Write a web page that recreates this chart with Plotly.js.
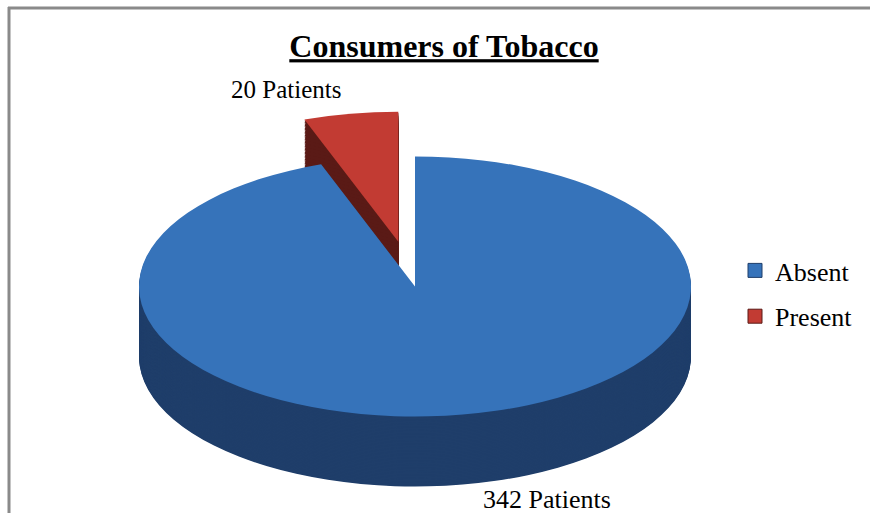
<!DOCTYPE html>
<html>
<head>
<meta charset="utf-8">
<script src="https://cdn.plot.ly/plotly-3.0.1.min.js"></script>
<style>
  html, body { margin:0; padding:0; background:#ffffff; width:870px; height:513px; overflow:hidden; }
  #pie { position:absolute; left:0; top:0; transform-origin:0 0; }
  #overlay { position:absolute; left:0; top:0; width:870px; height:513px; z-index:2; }
</style>
</head>
<body>
<div id="pie"></div>
<div id="overlay"></div>
<script>
// ---- data ----
const labels = ['Absent', 'Present'];
const values = [342, 20];
const unitLabel = 'Patients';
const chartTitle = 'Consumers of Tobacco';
const topColors = ['#3673ba', '#c23b33'];
const sideColors = ['#1f3e6a', '#5a1a16'];
const pulls = [0, 0.35];

// ---- geometry of the tilted pie (style only) ----
const W = 870;
const cx = 415, cy = 286;      // centre of top face (final px)
const rx = 276, ry = 130;      // radii of the ellipse (final px)
const depth = 70;              // thickness (final px)
const s = ry / rx;             // vertical squash
const maxPull = Math.max(...pulls);
const D = 2 * rx * (1 + maxPull);   // pie domain box (unscaled px)
const depthU = depth / s;
const Hf = Math.ceil(D + depthU) + 2;
const step = 3;
const nLayers = Math.ceil(depthU / step);

const pieDiv = document.getElementById('pie');
pieDiv.style.width = W + 'px';
pieDiv.style.height = Hf + 'px';
pieDiv.style.transform = 'scaleY(' + s + ')';
pieDiv.style.top = (cy - s * (D / 2)) + 'px';

function layer(offset, colors) {
  const yc = D / 2 + offset;           // from top, unscaled px
  return {
    type: 'pie',
    labels: labels,
    values: values,
    sort: false,
    direction: 'clockwise',
    rotation: 0,
    pull: pulls,
    marker: { colors: colors, line: { width: 0 } },
    textinfo: 'none',
    hoverinfo: 'skip',
    showlegend: false,
    domain: {
      x: [(cx - D / 2) / W, (cx + D / 2) / W],
      y: [(Hf - (yc + D / 2)) / Hf, (Hf - (yc - D / 2)) / Hf]
    }
  };
}

const pieTraces = [];
for (let k = nLayers; k >= 1; k--) {
  pieTraces.push(layer(Math.min(k * step, depthU), sideColors));
}
pieTraces.push(layer(0, topColors));

Plotly.newPlot(pieDiv, pieTraces, {
  width: W, height: Hf,
  margin: { l: 0, r: 0, t: 0, b: 0, pad: 0 },
  paper_bgcolor: 'rgba(0,0,0,0)',
  plot_bgcolor: 'rgba(0,0,0,0)',
  showlegend: false
}, { staticPlot: true, displayModeBar: false });

// ---- overlay: title, labels, legend, frame ----
const serif = 'Liberation Serif, Times New Roman, serif';
const legendTraces = labels.map((name, i) => ({
  type: 'scatter',
  mode: 'markers',
  x: [null], y: [null],
  name: name,
  legendgroup: name,
  marker: { symbol: 'square', size: 14, color: topColors[i], line: { width: 1, color: sideColors[i] } },
  hoverinfo: 'skip'
}));

const H = 513;
Plotly.newPlot('overlay', legendTraces, {
  width: W, height: H,
  margin: { l: 0, r: 0, t: 0, b: 0, pad: 0 },
  paper_bgcolor: 'rgba(0,0,0,0)',
  plot_bgcolor: 'rgba(0,0,0,0)',
  xaxis: { visible: false }, yaxis: { visible: false },
  title: {
    text: '<b>' + chartTitle + '</b>',
    font: { family: serif, size: 32, color: '#000000', lineposition: 'under' },
    x: 444 / W, xanchor: 'center', xref: 'container',
    y: 1 - 46 / H, yanchor: 'middle', yref: 'container'
  },
  showlegend: true,
  legend: {
    x: 735 / W, xanchor: 'left',
    y: 1 - 247 / H, yanchor: 'top',
    font: { family: serif, size: 26, color: '#000000' },
    bgcolor: 'rgba(0,0,0,0)',
    tracegroupgap: 9,
    itemwidth: 30
  },
  annotations: [
    { text: values[1] + ' ' + unitLabel, x: 286 / W, y: 1 - 89 / H, xref: 'paper', yref: 'paper',
      xanchor: 'center', yanchor: 'middle', showarrow: false, font: { family: serif, size: 25, color: '#000000' } },
    { text: values[0] + ' ' + unitLabel, x: 547 / W, y: 1 - 499 / H, xref: 'paper', yref: 'paper',
      xanchor: 'center', yanchor: 'middle', showarrow: false, font: { family: serif, size: 26, color: '#000000' } }
  ],
  shapes: [
    { type: 'line', xref: 'paper', yref: 'paper', x0: 8 / W, x1: 1, y0: 1 - 8 / H, y1: 1 - 8 / H,
      line: { color: '#8a8a8a', width: 3 } },
    { type: 'line', xref: 'paper', yref: 'paper', x0: 9 / W, x1: 9 / W, y0: 1 - 7 / H, y1: 0,
      line: { color: '#8a8a8a', width: 3 } }
  ]
}, { staticPlot: true, displayModeBar: false });
</script>
</body>
</html>
